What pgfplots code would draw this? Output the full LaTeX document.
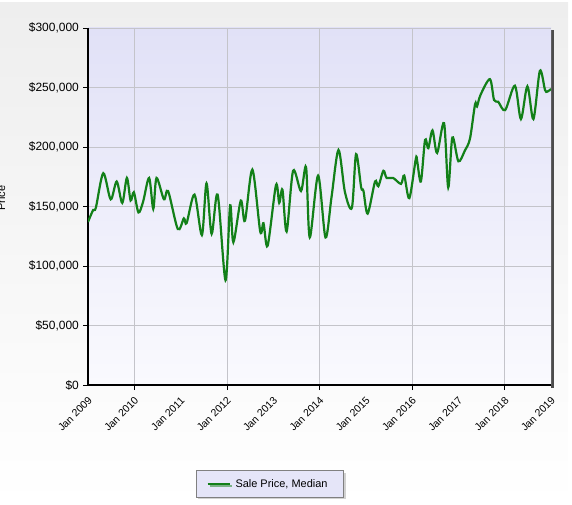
\documentclass[border=0pt]{standalone}
\usepackage{fontspec}
\setmainfont{Liberation Sans}
\usepackage{pgfplots}
\pgfplotsset{compat=1.18}
\usetikzlibrary{shadows}
\definecolor{linegreen}{RGB}{18,128,24}
\definecolor{gridgray}{RGB}{196,196,202}
\definecolor{plottop}{RGB}{225,225,247}
\definecolor{plotbot}{RGB}{250,250,254}
\definecolor{legfill}{RGB}{229,229,248}
\definecolor{panel}{RGB}{238,238,238}
\begin{document}
\fontsize{11}{13}\selectfont
\begin{tikzpicture}[x=1bp,y=1bp]
\path[use as bounding box] (0bp,0bp) rectangle (572bp,505bp);
\shade[top color=panel, bottom color=white] (0bp,0bp) rectangle (568bp,502bp);
\node[rotate=90, anchor=base, inner sep=0pt] at (5bp,307bp) {Price};
\fill[gray!60!black] (551bp,117bp) rectangle (554bp,475bp);
\begin{axis}[
  at={(88bp,120bp)}, anchor=south west,
  scale only axis, width=463bp, height=357bp,
  xmin=2009, xmax=2019, ymin=0, ymax=300000,
  axis background/.style={shade, top color=plottop, bottom color=plotbot},
  axis x line*=bottom, axis y line*=left,
  x axis line style={line width=1.6pt, -},
  y axis line style={line width=1.2pt, -},
  tick align=outside,
  major tick length=5bp,
  tick style={black, line width=0.8pt},
  ytick={0,50000,100000,150000,200000,250000,300000},
  yticklabels={{\$0},{\$50,000},{\$100,000},{\$150,000},{\$200,000},{\$250,000},{\$300,000}},
  scaled y ticks=false,
  ymajorgrids,
  xtick={2010,2012,2014,2016,2018},
  xticklabels={},
  xmajorgrids,
  grid style={gridgray, line width=0.7pt},
  extra x ticks={2009,2010,2011,2012,2013,2014,2015,2016,2017,2018,2019},
  extra x tick labels={Jan 2009,Jan 2010,Jan 2011,Jan 2012,Jan 2013,Jan 2014,Jan 2015,Jan 2016,Jan 2017,Jan 2018,Jan 2019},
  extra x tick style={grid=none, major tick length=0pt},
  xticklabel style={xshift=3bp, yshift=-13bp, rotate=45, anchor=east, inner sep=1pt, font=\fontsize{10.5}{12}\selectfont},
  yticklabel style={inner sep=1pt, xshift=-3bp, font=\fontsize{12}{14}\selectfont},
  legend style={at={(axis description cs:0.393,-0.277)}, anchor=center,
    fill=legfill, draw=gray, line width=0.6pt,
    drop shadow={shadow xshift=2bp, shadow yshift=-2bp, fill=gray!70},
    inner xsep=10bp, inner ysep=6.5bp, column sep=0pt,
    nodes={inner xsep=0bp},
    font=\fontsize{11}{13}\selectfont},
]
\addplot[linegreen, line width=2.2bp, smooth, tension=0.5,
  legend image code/.code={\pgfpathrectangle{\pgfpointorigin}{\pgfpoint{28bp}{0.1bp}}\pgfusepath{discard}\draw[linegreen, line width=2.2bp] (0bp,0bp) -- (22bp,0bp);}]
coordinates {
(2009.00,137000) (2009.11,147000) (2009.17,149000) (2009.33,178000)
(2009.49,156000) (2009.62,171000) (2009.74,153000) (2009.84,174000)
(2009.92,155000) (2009.99,162000) (2010.09,145000) (2010.19,154000)
(2010.32,174000) (2010.41,148000) (2010.48,174000) (2010.64,156000)
(2010.73,163000) (2010.94,131000) (2011.07,140000) (2011.13,136000)
(2011.30,160000) (2011.46,126000) (2011.56,169500) (2011.67,127000)
(2011.80,160000) (2011.97,88000) (2012.07,151000) (2012.14,120000)
(2012.30,155000) (2012.39,138000) (2012.55,181000) (2012.72,129000)
(2012.79,136000) (2012.88,117000) (2013.06,168000) (2013.13,153000)
(2013.20,164000) (2013.29,129000) (2013.43,180000) (2013.60,163000)
(2013.71,183000) (2013.79,124000) (2013.97,176000) (2014.13,124000)
(2014.26,158000) (2014.41,197500) (2014.55,162000) (2014.70,149000)
(2014.79,194000) (2014.90,166000) (2014.95,163000) (2015.04,144000)
(2015.20,171000) (2015.27,167000) (2015.38,180000) (2015.45,174000)
(2015.59,174000) (2015.76,169000) (2015.83,176000) (2015.94,157000)
(2016.08,190000) (2016.11,188000) (2016.19,171000) (2016.28,206000)
(2016.35,199000) (2016.44,214000) (2016.54,195000) (2016.69,220000)
(2016.78,166000) (2016.87,208000) (2017.00,188000) (2017.14,197000)
(2017.25,207000) (2017.36,236000) (2017.40,234000) (2017.48,244000)
(2017.68,257000) (2017.77,239500) (2017.86,238000) (2018.01,231000)
(2018.22,251500) (2018.35,223500) (2018.49,251000) (2018.62,223500)
(2018.76,264000) (2018.87,248000) (2018.92,246500) (2019.00,248700)
};
\addlegendentry{Sale Price, Median\kern6bp}
\end{axis}
\end{tikzpicture}
\end{document}
